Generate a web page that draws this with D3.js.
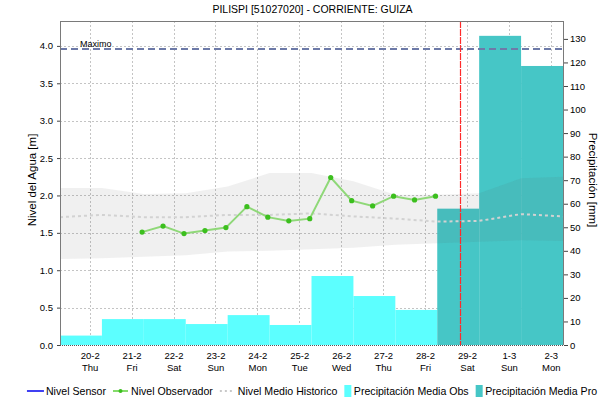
<!DOCTYPE html>
<html><head><meta charset="utf-8">
<script src="https://cdn.jsdelivr.net/npm/d3@7"></script>
<style>
body{margin:0;background:#fff}
svg text{font-family:"Liberation Sans",Arial,sans-serif;fill:#000}
</style>
</head><body>
<svg id="c" width="610" height="402"></svg>
<script>
// ---------- DATA ----------
const chartTitle = "PILISPI [51027020] - CORRIENTE: GUIZA";
const leftAxisTitle = "Nivel del Agua [m]";
const rightAxisTitle = "Precipitación [mm]";
const domainStart = "2020-02-19T07:00";
const domainEnd = "2020-03-02T07:00";
const tickDays = ["2020-02-20","2020-02-21","2020-02-22","2020-02-23","2020-02-24","2020-02-25",
                  "2020-02-26","2020-02-27","2020-02-28","2020-02-29","2020-03-01","2020-03-02"];
const levelTicks = [0,0.5,1.0,1.5,2.0,2.5,3.0,3.5,4.0];
const precipTicks = [0,10,20,30,40,50,60,70,80,90,100,110,120,130];
const levelMax = 4.333;
const precipMax = 137.6;

// daily precipitation (07:00 of the given day to 07:00 next day)
const precipObsDays = ["2020-02-19","2020-02-20","2020-02-21","2020-02-22","2020-02-23",
                       "2020-02-24","2020-02-25","2020-02-26","2020-02-27"];
const precipObsValues = [4.0, 11.0, 11.0, 8.9, 12.7, 8.5, 29.3, 20.8, 14.9];
const precipProDays = ["2020-02-28","2020-02-29","2020-03-01"];
const precipProValues = [57.9, 131.3, 118.5];

// observer readings
const obsTimes = ["2020-02-21T06:00","2020-02-21T18:00","2020-02-22T06:00","2020-02-22T18:00",
                  "2020-02-23T06:00","2020-02-23T18:00","2020-02-24T06:00","2020-02-24T18:00",
                  "2020-02-25T06:00","2020-02-25T18:00","2020-02-26T06:00","2020-02-26T18:00",
                  "2020-02-27T06:00","2020-02-27T18:00","2020-02-28T06:00"];
const obsValues = [1.51, 1.59, 1.49, 1.53, 1.57, 1.85, 1.71, 1.66, 1.69, 2.24, 1.93, 1.86, 1.99, 1.94, 1.99];

// sensor (no data in this period)
const sensorTimes = [];
const sensorValues = [];

// historic level
const histTimes = ["2020-02-19T07:00","2020-02-20T07:00","2020-02-21T07:00","2020-02-22T07:00",
                   "2020-02-23T07:00","2020-02-24T07:00","2020-02-25T07:00","2020-02-26T07:00",
                   "2020-02-27T07:00","2020-02-28T07:00","2020-02-29T07:00","2020-03-01T07:00",
                   "2020-03-02T07:00"];
const histUpper  = [2.10, 2.10, 2.02, 2.03, 2.12, 2.30, 2.30, 2.19, 2.01, 2.01, 2.03, 2.23, 2.25];
const histLower  = [1.15, 1.16, 1.18, 1.20, 1.25, 1.26, 1.28, 1.30, 1.34, 1.36, 1.38, 1.40, 1.39];
const histMedian = [1.71, 1.74, 1.71, 1.71, 1.74, 1.74, 1.76, 1.72, 1.69, 1.65, 1.66, 1.75, 1.72];

const maximoValue = 3.96;
const maximoLabel = "Maximo";
const nowTime = "2020-02-28T20:00";

const legendLabels = ["Nivel Sensor","Nivel Observador","Nivel Medio Historico",
                      "Precipitación Media Obs","Precipitación Media Pro"];

// ---------- CHART ----------
const W = 610, H = 402;
const M = {left: 60, right: 47, top: 21, bottom: 57};
const px0 = M.left, px1 = W - M.right, py0 = M.top, py1 = H - M.bottom;

const pT = d3.timeParse("%Y-%m-%dT%H:%M");
const pD = d3.timeParse("%Y-%m-%d");

const x = d3.scaleTime().domain([pT(domainStart), pT(domainEnd)]).range([px0, px1]);
const yL = d3.scaleLinear().domain([0, levelMax]).range([py1, py0]);
const yR = d3.scaleLinear().domain([0, precipMax]).range([py1, py0]);

const svg = d3.select("#c");
const colObs = "#5cffff", colPro = "#46c6c6";

// title
svg.append("text").attr("x", (px0+px1)/2 + 1).attr("y", 13).attr("text-anchor","middle")
   .style("font-size","10.5px").text(chartTitle);

// grid
const grid = svg.append("g").attr("stroke","#c4c4c4").attr("stroke-width",1).attr("stroke-dasharray","2,2");
grid.selectAll(".vg").data(tickDays).join("line")
   .attr("x1", d=>Math.round(x(pD(d)))+0.5).attr("x2", d=>Math.round(x(pD(d)))+0.5)
   .attr("y1", py0).attr("y2", py1);
grid.selectAll(".hg").data(levelTicks.filter(v=>v>0)).join("line")
   .attr("x1", px0).attr("x2", px1)
   .attr("y1", d=>Math.round(yL(d))+0.5).attr("y2", d=>Math.round(yL(d))+0.5);

// bars
function barStart(d){ return d3.timeHour.offset(pD(d), 7); }
function barEnd(d){ return d3.timeHour.offset(pD(d), 31); }
svg.append("g").selectAll("rect").data(precipObsDays).join("rect")
   .attr("x", d=>x(barStart(d))).attr("width", d=>x(barEnd(d))-x(barStart(d)))
   .attr("y", (d,i)=>yR(precipObsValues[i])).attr("height", (d,i)=>py1-yR(precipObsValues[i]))
   .attr("fill", colObs);
svg.append("g").selectAll("rect").data(precipProDays).join("rect")
   .attr("x", d=>x(barStart(d))).attr("width", d=>x(barEnd(d))-x(barStart(d)))
   .attr("y", (d,i)=>yR(precipProValues[i])).attr("height", (d,i)=>py1-yR(precipProValues[i]))
   .attr("fill", colPro);

// historic band
const histT = histTimes.map(pT);
svg.append("path").datum(histT)
   .attr("d", d3.area().x(d=>x(d)).y0((d,i)=>yL(histLower[i])).y1((d,i)=>yL(histUpper[i])))
   .attr("fill","rgba(90,90,90,0.09)");
svg.append("path").datum(histT)
   .attr("d", d3.line().x(d=>x(d)).y((d,i)=>yL(histMedian[i])))
   .attr("fill","none").attr("stroke","#d2d2d2").attr("stroke-width",2).attr("stroke-dasharray","3,3");

// sensor line
if (sensorTimes.length) {
  svg.append("path").datum(sensorTimes.map(pT))
     .attr("d", d3.line().x(d=>x(d)).y((d,i)=>yL(sensorValues[i])))
     .attr("fill","none").attr("stroke","#0000ee").attr("stroke-width",1.5);
}

// observer line
const obsT = obsTimes.map(pT);
svg.append("path").datum(obsT)
   .attr("d", d3.line().x(d=>x(d)).y((d,i)=>yL(obsValues[i])))
   .attr("fill","none").attr("stroke","#8fd878").attr("stroke-width",2);
svg.append("g").selectAll("circle").data(obsT).join("circle")
   .attr("cx", d=>x(d)).attr("cy", (d,i)=>yL(obsValues[i])).attr("r",2.6)
   .attr("fill","#3cbf1e");

// maximo line
svg.append("line").attr("x1",px0).attr("x2",px1)
   .attr("y1", yL(maximoValue)).attr("y2", yL(maximoValue))
   .attr("stroke","#6d7aa8").attr("stroke-width",2).attr("stroke-dasharray","7,4");
svg.append("text").attr("x", px0+20).attr("y", yL(maximoValue)-1.5)
   .style("font-size","9px").text(maximoLabel);

// now line
svg.append("line").attr("x1", Math.round(x(pT(nowTime)))+0.5).attr("x2", Math.round(x(pT(nowTime)))+0.5)
   .attr("y1", py0).attr("y2", py1)
   .attr("stroke","#ff2a2a").attr("stroke-width",1.2).attr("stroke-dasharray","7,1");

// frame
svg.append("line").attr("x1",px0+0.5).attr("x2",px0+0.5).attr("y1",py0).attr("y2",py1).attr("stroke","#7a7a7a");
svg.append("line").attr("x1",px1+0.5).attr("x2",px1+0.5).attr("y1",py0).attr("y2",py1).attr("stroke","#7a7a7a");
svg.append("line").attr("x1",px0).attr("x2",px1+1).attr("y1",py0+0.5).attr("y2",py0+0.5).attr("stroke","#7a7a7a");
svg.append("line").attr("x1",px0).attr("x2",px1+1).attr("y1",py1+0.5).attr("y2",py1+0.5)
   .attr("stroke","#555").attr("stroke-dasharray","1,1");

// axes
const axL = svg.append("g").attr("transform",`translate(${px0},0)`)
   .call(d3.axisLeft(yL).tickValues(levelTicks).tickFormat(d3.format(".1f")).tickSize(3).tickPadding(4));
const axR = svg.append("g").attr("transform",`translate(${px1+1},0)`)
   .call(d3.axisRight(yR).tickValues(precipTicks).tickSize(4).tickPadding(2));
[axL, axR].forEach(a=>{
  a.select(".domain").remove();
  a.selectAll("line").attr("stroke","#444");
  a.selectAll("text").style("font-size","9.5px").attr("fill","#000");
});

const fmtD = d=>`${d.getDate()}-${d.getMonth()+1}`;
const fmtW = d3.timeFormat("%a");
const axB = svg.append("g").attr("transform",`translate(0,${py1})`)
   .call(d3.axisBottom(x).tickValues(tickDays.map(pD)).tickSize(0).tickPadding(10).tickFormat(fmtD));
axB.select(".domain").remove();
axB.selectAll(".tick text").each(function(d){
  const t = d3.select(this);
  t.text(null).attr("y",null).attr("dy",null).style("font-size","9.5px");
  t.append("tspan").attr("x",0).attr("y",14).text(fmtD(d));
  t.append("tspan").attr("x",0).attr("y",26).text(fmtW(d));
});

// axis titles
svg.append("text").attr("transform",`translate(36,180) rotate(-90)`)
   .attr("text-anchor","middle").style("font-size","11.5px").text(leftAxisTitle);
svg.append("text").attr("transform",`translate(589,180) rotate(90)`)
   .attr("text-anchor","middle").style("font-size","11.5px").text(rightAxisTitle);

// legend
const lg = svg.append("g");
const lgY = 391;
const items = [];
legendLabels.forEach((lab,i)=>{
  const g = lg.append("g");
  let sw;
  if (i===0) { g.append("line").attr("x1",0).attr("x2",17).attr("y1",lgY).attr("y2",lgY).attr("stroke","#0000ee").attr("stroke-width",1.5); sw=19; }
  else if (i===1) { g.append("line").attr("x1",0).attr("x2",15).attr("y1",lgY).attr("y2",lgY).attr("stroke","#5ccf3a").attr("stroke-width",1.5);
                    g.append("circle").attr("cx",7.5).attr("cy",lgY).attr("r",2).attr("fill","#3cbf1e"); sw=18; }
  else if (i===2) { g.append("line").attr("x1",0).attr("x2",14).attr("y1",lgY).attr("y2",lgY).attr("stroke","#c8c8c8").attr("stroke-width",2).attr("stroke-dasharray","2,3"); sw=18; }
  else { g.append("rect").attr("x",0).attr("y",lgY-6).attr("width",7).attr("height",12).attr("fill", i===3?colObs:colPro); sw=9.5; }
  const t = g.append("text").attr("x",sw).attr("y",lgY+3.8).style("font-size","10.6px").text(lab);
  const w = sw + t.node().getComputedTextLength();
  items.push({g,w});
});
const gap = 7;
const total = d3.sum(items,d=>d.w) + gap*(items.length-1);
let sx = 312 - total/2;
items.forEach(it=>{ it.g.attr("transform",`translate(${sx},0)`); sx += it.w + gap; });
</script>
</body></html>
